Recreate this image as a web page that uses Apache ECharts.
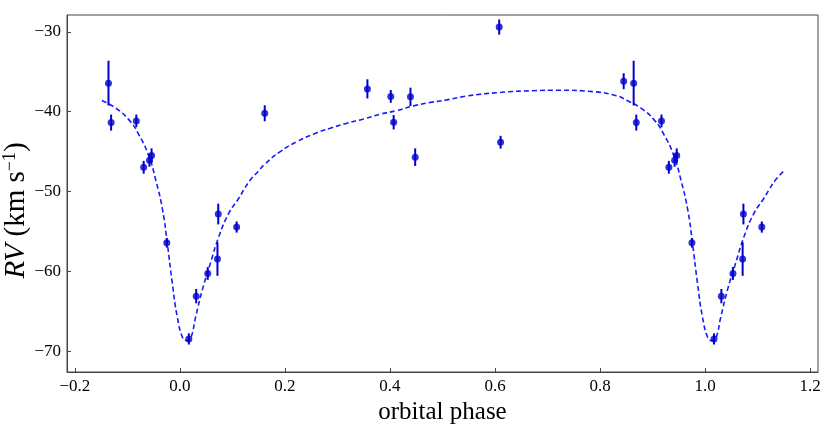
<!DOCTYPE html>
<html>
<head>
<meta charset="utf-8">
<script src="https://cdn.jsdelivr.net/npm/echarts@6/dist/echarts.min.js"></script>
<style>
  html, body { margin: 0; padding: 0; background: #fff; }
  #chart { width: 830px; height: 437px; }
</style>
</head>
<body>
<div id="chart"></div>
<script>
  // observed radial velocities, one orbit (phase 0..1)
  var obsPhase = [0.017, 0.031, 0.053, 0.0715, 0.073, 0.108, 0.1615, 0.357, 0.4015, 0.407, 0.439, 0.448,
                  0.608, 0.6106, 0.845, 0.864, 0.869, 0.917, 0.931, 0.942, 0.946, 0.975];
  var obsRV    = [-68.46, -63.1, -60.26, -58.46, -52.82, -54.45, -40.2, -37.15, -38.1, -41.33, -38.15, -45.7,
                  -29.41, -43.83, -36.19, -36.43, -41.37, -41.16, -46.97, -46.1, -45.5, -56.42];
  var obsErr   = [0.7, 0.9, 0.8, 2.1, 1.3, 0.7, 1.0, 1.2, 0.8, 0.9, 1.15, 1.1,
                  0.95, 0.8, 1.0, 2.8, 1.0, 0.8, 0.8, 0.8, 0.9, 0.6];

  // fitted orbit curve (-0.15 .. 0.85)
  var fitPhase = [-0.1486, -0.122, -0.097, -0.078, -0.059, -0.046, -0.033, -0.024, -0.0144, -0.005,
                  0.0057, 0.013, 0.0203, 0.030, 0.0425, 0.058, 0.074, 0.093, 0.112, 0.1216, 0.134, 0.149,
                  0.16, 0.191, 0.223, 0.255, 0.286, 0.318, 0.35, 0.381, 0.413, 0.445, 0.476, 0.508, 0.546,
                  0.609, 0.672, 0.723, 0.787, 0.831];
  var fitRV    = [-38.61, -39.57, -41.03, -42.9, -45.6, -48.56, -52.3, -56.5, -61.5, -65.7,
                  -68.4, -68.65, -68.4, -65.7, -62.35, -59.0, -55.67, -52.73, -50.85, -49.8, -48.56, -47.5,
                  -46.68, -45.0, -43.75, -42.79, -42.08, -41.45, -40.91, -40.32, -39.87, -39.28, -38.86, -38.53, -38.05,
                  -37.6, -37.38, -37.32, -37.5, -38.0];

  var xTicks = [-0.2, 0.0, 0.2, 0.4, 0.6, 0.8, 1.0, 1.2];
  var yTicks = [-70, -60, -50, -40, -30];

  // plotted points: each observation plus its wrapped copy near the edges
  var points = [];
  for (var i = 0; i < obsPhase.length; i++) {
    points.push([obsPhase[i], obsRV[i], obsErr[i]]);
    if (obsPhase[i] < 0.15) points.push([obsPhase[i] + 1, obsRV[i], obsErr[i]]);
    if (obsPhase[i] > 0.85) points.push([obsPhase[i] - 1, obsRV[i], obsErr[i]]);
  }
  // curve: one cycle, then its start repeated one phase later
  var fitLine = fitPhase.map(function (p, k) { return [p, fitRV[k]]; });
  fitPhase.forEach(function (p, k) {
    if (p <= 0.15) fitLine.push([p + 1, fitRV[k]]);
  });

  var serif = 'Liberation Serif';
  var minus = function (s) { return String(s).replace('-', '\u2212'); };

  var chart = echarts.init(document.getElementById('chart'));
  chart.setOption({
    animation: false,
    grid: { left: 67, right: 12, top: 15, bottom: 65, outerBoundsMode: 'none',
            show: true, borderColor: '#444', borderWidth: 1 },
    xAxis: {
      type: 'value', min: -0.215, max: 1.215,
      name: 'orbital phase', nameLocation: 'middle', nameGap: 26,
      nameTextStyle: { fontFamily: serif, fontSize: 25, color: '#000' },
      splitLine: { show: false },
      axisLine: { onZero: false, lineStyle: { color: '#444', width: 1 } },
      axisTick: { inside: true, length: 4, lineStyle: { color: '#444' }, customValues: xTicks },
      axisLabel: { customValues: xTicks, fontFamily: serif, fontSize: 17, color: '#000', margin: 6,
                   formatter: function (v) { return minus(v.toFixed(1)); } }
    },
    yAxis: {
      type: 'value', min: -72.6, max: -27.9,
      name: '{i|RV} (km s{sup|\u22121})', nameLocation: 'middle', nameGap: 36, nameMoveOverlap: false,
      nameTextStyle: { fontFamily: serif, fontSize: 29, color: '#000', padding: [0, 34, 0, 0],
        rich: {
          i: { fontFamily: serif, fontSize: 29, fontStyle: 'italic', color: '#000' },
          sup: { fontFamily: serif, fontSize: 18, color: '#000', verticalAlign: 'top', padding: [0, 0, 12, 0] }
        } },
      splitLine: { show: false },
      axisLine: { show: true, onZero: false, lineStyle: { color: '#444', width: 1 } },
      axisTick: { show: true, inside: true, length: 4, lineStyle: { color: '#444' }, customValues: yTicks },
      axisLabel: { customValues: yTicks, fontFamily: serif, fontSize: 17, color: '#000', margin: 6,
                   formatter: function (v) { return minus(v); } }
    },
    series: [
      {
        type: 'line', data: fitLine, showSymbol: false, smooth: 0.5,
        lineStyle: { color: '#1a1aff', width: 1.6, type: [5, 3] }, z: 2
      },
      {
        type: 'custom', data: points, z: 3,
        renderItem: function (params, api) {
          var x = api.value(0), y = api.value(1), e = api.value(2);
          var top = api.coord([x, y + e]);
          var bot = api.coord([x, y - e]);
          return {
            type: 'line',
            shape: { x1: top[0], y1: top[1], x2: bot[0], y2: bot[1] },
            style: { stroke: '#0000cd', lineWidth: 2 }
          };
        }
      },
      {
        type: 'scatter', data: points, symbolSize: 7, z: 4,
        itemStyle: { color: '#0000cd' }
      }
    ]
  });
</script>
</body>
</html>
